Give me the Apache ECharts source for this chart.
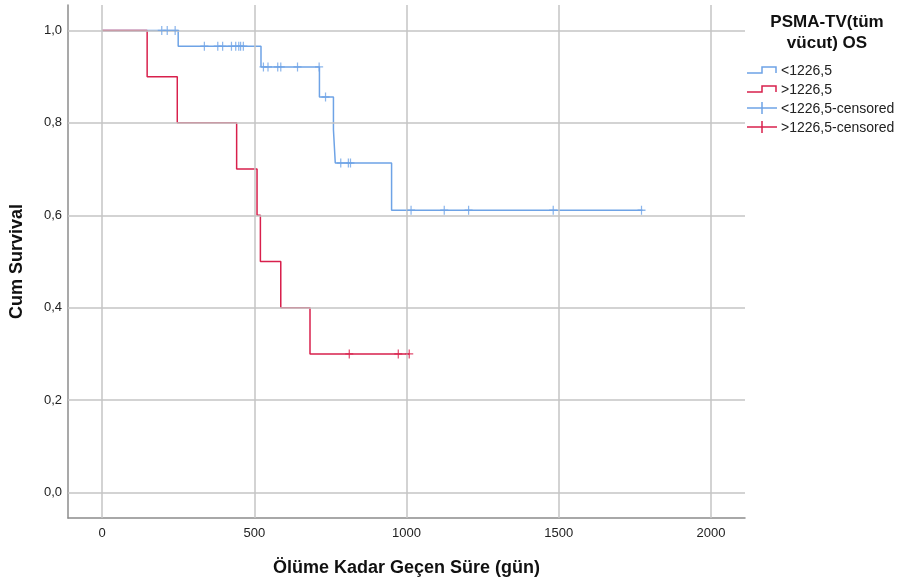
<!DOCTYPE html>
<html>
<head>
<meta charset="utf-8" />
<title>Kaplan-Meier PSMA-TV</title>
<script src="https://cdn.jsdelivr.net/npm/echarts@6.0.0/dist/echarts.min.js"></script>
<style>
  html, body { margin: 0; padding: 0; background: #fff; }
  #chart { width: 907px; height: 582px; }
</style>
</head>
<body>
<div id="chart"></div>
<script>
// tick labels
var xTicks = [0, 500, 1000, 1500, 2000];
var yTicks = [0, 0.2, 0.4, 0.6, 0.8, 1.0];

// <1226,5 group: event times and survival after each step
var lowTimes = [0, 250, 522, 714, 760, 766, 951, 1775];
var lowSurv  = [1, 0.966, 0.921, 0.856, 0.785, 0.713, 0.611, 0.611];
// >1226,5 group
var highTimes = [0, 148, 247, 442, 509, 520, 587, 683, 1010];
var highSurv  = [1, 0.9, 0.8, 0.7, 0.6, 0.5, 0.4, 0.3, 0.3];

// censored observations
var lowCensT = [196, 214, 240, 336, 380, 396, 425, 439, 449, 455, 464,
                530, 545, 577, 587, 642, 713, 734, 784, 809, 816,
                1015, 1124, 1204, 1482, 1772];
var lowCensS = [1, 1, 1, 0.966, 0.966, 0.966, 0.966, 0.966, 0.966, 0.966, 0.966,
                0.921, 0.921, 0.921, 0.921, 0.921, 0.921, 0.856, 0.713, 0.713, 0.713,
                0.611, 0.611, 0.611, 0.611, 0.611];
var highCensT = [812, 973, 1009];
var highCensS = [0.3, 0.3, 0.3];

var blue = '#6ea3e6';
var red = '#d8204c';

function pairs(a, b) { return a.map(function (v, i) { return [v, b[i]]; }); }
function fmt(v) { return v.toFixed(1).replace('.', ','); }

var cross = 'path://M5,0 L5,10 M0,5 L10,5';

var chart = echarts.init(document.getElementById('chart'));
var option = {
  animation: false,
  grid: { left: 68, top: 5, right: 162, bottom: 64 },
  xAxis: {
    type: 'value', min: -112, max: 2112,
    name: 'Ölüme Kadar Geçen Süre (gün)', nameLocation: 'middle', nameGap: 41,
    nameTextStyle: { fontFamily: 'Liberation Sans', fontSize: 18, fontWeight: 'bold', color: '#111' },
    axisLine: { show: true, onZero: false, lineStyle: { color: '#8c8c8c', width: 1.5 } },
    axisTick: { show: false },
    splitLine: { show: false },
    axisLabel: { customValues: xTicks, margin: 9, formatter: function (v) { return String(v); },
      fontFamily: 'Liberation Sans', fontSize: 13, color: '#222' }
  },
  yAxis: {
    type: 'value', min: -0.055, max: 1.055,
    name: 'Cum Survival', nameLocation: 'middle', nameGap: 42,
    nameTextStyle: { fontFamily: 'Liberation Sans', fontSize: 18, fontWeight: 'bold', color: '#111' },
    axisLine: { show: true, onZero: false, lineStyle: { color: '#8c8c8c', width: 1.5 } },
    axisTick: { show: false },
    splitLine: { show: false },
    axisLabel: { customValues: yTicks, margin: 6, formatter: fmt, fontFamily: 'Liberation Sans', fontSize: 13, color: '#222' }
  },
  series: [
    {
      // grid lines
      type: 'line', data: [], z: 1, silent: true,
      markLine: {
        silent: true, symbol: 'none', label: { show: false },
        lineStyle: { color: '#c4c4c4', width: 1.5, type: 'solid' },
        data: xTicks.map(function (v) { return { xAxis: v }; })
          .concat(yTicks.map(function (v) { return { yAxis: v }; }))
      }
    },
    {
      name: '<1226,5', type: 'line', step: 'end', z: 3,
      data: pairs(lowTimes, lowSurv), showSymbol: false,
      lineStyle: { color: blue, width: 1.5 }
    },
    {
      name: '>1226,5', type: 'line', step: 'end', z: 4,
      data: pairs(highTimes, highSurv), showSymbol: false,
      lineStyle: { color: red, width: 1.5 }
    },
    {
      name: '<1226,5-censored', type: 'scatter', z: 5,
      data: pairs(lowCensT, lowCensS), symbol: cross, symbolSize: [8, 9],
      itemStyle: { color: 'none', borderColor: blue, borderWidth: 1.3 }
    },
    {
      name: '>1226,5-censored', type: 'scatter', z: 6,
      data: pairs(highCensT, highCensS), symbol: cross, symbolSize: [8, 9],
      itemStyle: { color: 'none', borderColor: red, borderWidth: 1.3 }
    }
  ],
  graphic: [
    { type: 'text', x: 827, y: 12, style: { text: 'PSMA-TV(tüm\nvücut) OS', align: 'center', lineHeight: 21,
      font: 'bold 17px "Liberation Sans"', fill: '#111' } },
    { type: 'polyline', shape: { points: [[747, 73], [762, 73], [762, 67], [776, 67], [776, 73]] }, style: { stroke: blue, lineWidth: 1.5, fill: null } },
    { type: 'polyline', shape: { points: [[747, 92], [762, 92], [762, 86], [776, 86], [776, 92]] }, style: { stroke: red, lineWidth: 1.5, fill: null } },
    { type: 'polyline', shape: { points: [[747, 108], [777, 108]] }, style: { stroke: blue, lineWidth: 1.5 } },
    { type: 'polyline', shape: { points: [[762, 102], [762, 114]] }, style: { stroke: blue, lineWidth: 1.5 } },
    { type: 'polyline', shape: { points: [[747, 127], [777, 127]] }, style: { stroke: red, lineWidth: 1.5 } },
    { type: 'polyline', shape: { points: [[762, 121], [762, 133]] }, style: { stroke: red, lineWidth: 1.5 } },
    { type: 'text', left: 781, top: 64, style: { text: '<1226,5', font: '14px "Liberation Sans"', fill: '#222' } },
    { type: 'text', left: 781, top: 83, style: { text: '>1226,5', font: '14px "Liberation Sans"', fill: '#222' } },
    { type: 'text', left: 781, top: 102, style: { text: '<1226,5-censored', font: '14px "Liberation Sans"', fill: '#222' } },
    { type: 'text', left: 781, top: 121, style: { text: '>1226,5-censored', font: '14px "Liberation Sans"', fill: '#222' } }
  ]
};
chart.setOption(option);
</script>
</body>
</html>
